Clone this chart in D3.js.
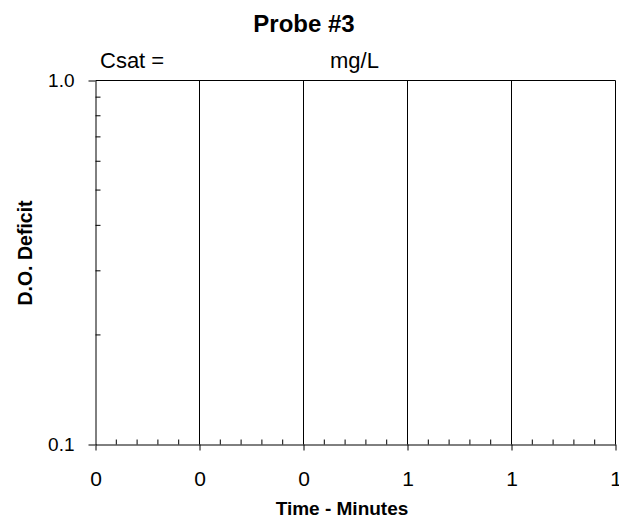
<!DOCTYPE html>
<html>
<head>
<meta charset="utf-8">
<script src="https://cdn.jsdelivr.net/npm/d3@7"></script>
<style>
  html, body { margin: 0; padding: 0; background: #fff; overflow: hidden; }
  svg { display: block; }
  text { font-family: "Liberation Sans", Arial, sans-serif; fill: #000; }
</style>
</head>
<body>
<svg id="chart" width="619" height="531"></svg>
<script>
// chart values
const xTickValues = [0, 0.2, 0.4, 0.6, 0.8, 1.0];
const xDomain = [0, 1];
const yDomain = [0.1, 1.0];
const yTickValues = [0.1, 1.0];
const yMinorValues = [0.2, 0.3, 0.4, 0.5, 0.6, 0.7, 0.8, 0.9];
const titleText = "Probe #3";
const csatLabel = "Csat =";
const csatUnit = "mg/L";

const margin = { top: 80.5, left: 95.5 };
const innerWidth = 520;
const innerHeight = 364;

const svg = d3.select("#chart");

const xScale = d3.scaleLinear().domain(xDomain).range([0, innerWidth]);
const yScale = d3.scaleLog().domain(yDomain).range([innerHeight, 0]);

// minor x ticks: 5 steps between majors
const xMinorValues = d3.range(0, 26).map(i => i / 25).filter(v => !xTickValues.some(t => Math.abs(t - v) < 1e-9));

const inner = svg.append("g")
  .attr("transform", `translate(${margin.left},${margin.top})`);

// vertical grid lines
inner.append("g")
  .selectAll("line")
  .data(xTickValues.slice(1))
  .join("line")
    .attr("x1", d => xScale(d))
    .attr("x2", d => xScale(d))
    .attr("y1", 0)
    .attr("y2", innerHeight)
    .attr("stroke", "#000")
    .attr("stroke-width", 1);

// top border
inner.append("line")
  .attr("x1", 0).attr("x2", innerWidth)
  .attr("y1", 0).attr("y2", 0)
  .attr("stroke", "#000");

// x axis
const bottomAxis = d3.axisBottom(xScale)
  .tickValues(xTickValues)
  .tickFormat(d3.format(".0f"))
  .tickSizeInner(6)
  .tickSizeOuter(0)
  .tickPadding(21);
const xAxisG = inner.append("g")
  .attr("class", "axis-x")
  .attr("transform", `translate(0,${innerHeight})`)
  .call(bottomAxis);
xAxisG.select(".domain").attr("stroke", "#000");
xAxisG.selectAll("text").style("font-size", "21px");

// x minor ticks (inside)
inner.append("g")
  .selectAll("line")
  .data(xMinorValues)
  .join("line")
    .attr("x1", d => xScale(d))
    .attr("x2", d => xScale(d))
    .attr("y1", innerHeight)
    .attr("y2", innerHeight - 5)
    .attr("stroke", "#000");

// y axis
const leftAxis = d3.axisLeft(yScale)
  .tickValues(yTickValues)
  .tickFormat(d3.format(".1f"))
  .tickSizeInner(7)
  .tickSizeOuter(0)
  .tickPadding(14);
const yAxisG = inner.append("g")
  .attr("class", "axis-y")
  .call(leftAxis);
yAxisG.select(".domain").attr("stroke", "#000");
yAxisG.selectAll("text").style("font-size", "19px");

// y minor ticks (inside)
inner.append("g")
  .selectAll("line")
  .data(yMinorValues)
  .join("line")
    .attr("x1", 0)
    .attr("x2", 5)
    .attr("y1", d => yScale(d))
    .attr("y2", d => yScale(d))
    .attr("stroke", "#000");

// titles
svg.append("text")
  .attr("x", 304)
  .attr("y", 32)
  .attr("text-anchor", "middle")
  .style("font-size", "24px")
  .style("font-weight", "bold")
  .text(titleText);

svg.append("text")
  .attr("x", 100)
  .attr("y", 68)
  .style("font-size", "22px")
  .text(csatLabel);

svg.append("text")
  .attr("x", 330)
  .attr("y", 68)
  .style("font-size", "22px")
  .text(csatUnit);

svg.append("text")
  .attr("x", 342)
  .attr("y", 515)
  .attr("text-anchor", "middle")
  .style("font-size", "19px")
  .style("font-weight", "bold")
  .text("Time - Minutes");

svg.append("text")
  .attr("transform", "translate(31.5,253) rotate(-90)")
  .attr("text-anchor", "middle")
  .style("font-size", "19.5px")
  .style("font-weight", "bold")
  .text("D.O. Deficit");
</script>
</body>
</html>
